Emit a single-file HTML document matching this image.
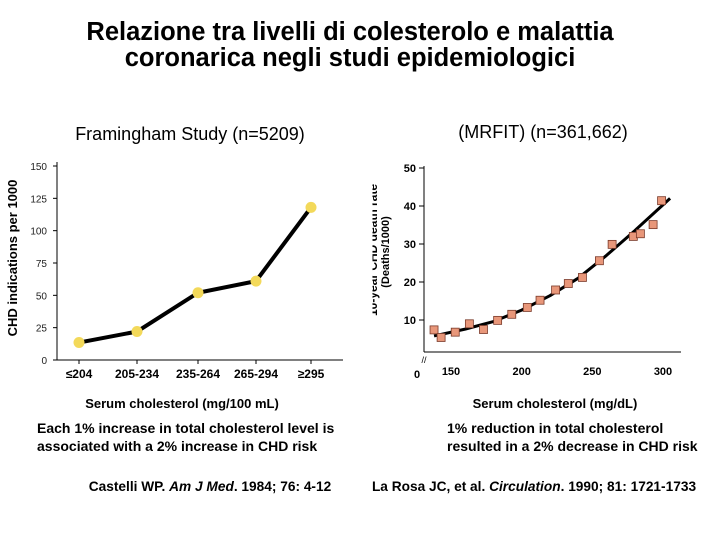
<!DOCTYPE html>
<html><head><meta charset="utf-8"><style>
body{margin:0;background:#fff}
svg{display:block;font-family:"Liberation Sans",Arial,sans-serif}
</style></head><body>
<svg width="720" height="540" viewBox="0 0 720 540">
<text x="350" y="40" text-anchor="middle" font-size="25.5" font-weight="bold">Relazione tra livelli di colesterolo e malattia</text>
<text x="350" y="66" text-anchor="middle" font-size="25.5" font-weight="bold">coronarica negli studi epidemiologici</text>
<text x="190" y="140" text-anchor="middle" font-size="18">Framingham Study (n=5209)</text>
<text x="543" y="138" text-anchor="middle" font-size="18">(MRFIT) (n=361,662)</text>
<g id="left"></g>
<g id="right"></g>
<text transform="translate(17,258) rotate(-90)" text-anchor="middle" font-size="13" font-weight="bold">CHD indications per 1000</text>
<defs><clipPath id="cp"><rect x="372.5" y="150" width="20" height="200"/></clipPath></defs>
<g clip-path="url(#cp)">
<text transform="translate(377,250) rotate(-90)" text-anchor="middle" font-size="12" font-weight="bold">10-year CHD death rate</text>
</g>
<text transform="translate(389,252) rotate(-90)" text-anchor="middle" font-size="11" font-weight="bold">(Deaths/1000)</text>
<text x="182" y="408" text-anchor="middle" font-size="13" font-weight="bold">Serum cholesterol (mg/100 mL)</text>
<text x="555" y="408" text-anchor="middle" font-size="13" font-weight="bold">Serum cholesterol (mg/dL)</text>
<text x="37" y="433" font-size="14" font-weight="bold">Each 1% increase in total cholesterol level is</text>
<text x="37" y="451" font-size="14" font-weight="bold">associated with a 2% increase in CHD risk</text>
<text x="447" y="433" font-size="14" font-weight="bold">1% reduction in total cholesterol</text>
<text x="447" y="451" font-size="14" font-weight="bold">resulted in a 2% decrease in CHD risk</text>
<text x="210" y="491" text-anchor="middle" font-size="13.7" font-weight="bold">Castelli WP. <tspan font-style="italic">Am J Med</tspan>. 1984; 76: 4-12</text>
<text x="534" y="491" text-anchor="middle" font-size="13.7" font-weight="bold">La Rosa JC, et al. <tspan font-style="italic">Circulation</tspan>. 1990; 81: 1721-1733</text>
</svg>
<script>
const leftCats=["≤204","205-234","235-264","265-294","≥295"];
const leftVals=[13.5,22,52,61,118];
const leftTicks=[0,25,50,75,100,125,150];
const rightX=[138,143,153,163,173,183,193,204,213,224,233,243,255,264,279,284,293,299];
const rightY=[7.4,5.4,6.8,9,7.5,9.9,11.5,13.3,15.2,17.9,19.6,21.2,25.6,29.9,32,32.7,35.1,41.4];
const fitX=[138,160,180,200,220,240,260,280,305];
const fitY=[5.8,7.6,9.6,12.6,16.4,21,27,33.5,42];
const rightYTicks=[10,20,30,40,50];
const rightXTicks=[150,200,250,300];
const NS="http://www.w3.org/2000/svg";
function mk(p,t,a){const e=document.createElementNS(NS,t);for(const k in a)e.setAttribute(k,a[k]);p.appendChild(e);return e;}
const L=document.getElementById('left');
const lxp=[79,137,198,256,311];
const ly=v=>360-v*(194/150);
let e=mk(L,'line',{x1:57,y1:162,x2:57,y2:360,stroke:'#000','stroke-width':1});

e=mk(L,'line',{x1:57,y1:360,x2:343,y2:360,stroke:'#000','stroke-width':1});

leftTicks.forEach(t=>{const y=ly(t);
 e=mk(L,'line',{x1:53,y1:y,x2:57,y2:y,stroke:'#000'});
 
 e=mk(L,'text',{x:47,y:y+4,'text-anchor':'end','font-size':10,fill:'#222'});e.textContent=t;
 });
leftCats.forEach((c,i)=>{
 e=mk(L,'line',{x1:lxp[i],y1:360,x2:lxp[i],y2:364,stroke:'#000'});
 
 e=mk(L,'text',{x:lxp[i],y:378,'text-anchor':'middle','font-size':12,'font-weight':'bold'});e.textContent=c;
 });
e=mk(L,'polyline',{points:leftVals.map((v,i)=>lxp[i]+','+ly(v)).join(' '),fill:'none',stroke:'#000','stroke-width':4});

leftVals.forEach((v,i)=>{e=mk(L,'circle',{cx:lxp[i],cy:ly(v),r:5.5,fill:'#f3d95a'});
 });
const R=document.getElementById('right');
const rx=v=>451+(v-150)*(212/150);
const ry=v=>320-(v-10)*3.8;
e=mk(R,'line',{x1:424,y1:166,x2:424,y2:352,stroke:'#000'});

e=mk(R,'line',{x1:424,y1:352,x2:681,y2:352,stroke:'#000'});

rightYTicks.forEach(t=>{const y=ry(t);
 e=mk(R,'line',{x1:419,y1:y,x2:424,y2:y,stroke:'#000'});
 
 e=mk(R,'text',{x:416,y:y+4,'text-anchor':'end','font-size':11,'font-weight':'bold'});e.textContent=t;
 });
rightXTicks.forEach(t=>{
 e=mk(R,'text',{x:rx(t),y:375,'text-anchor':'middle','font-size':11,'font-weight':'bold'});e.textContent=t;
 });
e=mk(R,'text',{x:417,y:378,'text-anchor':'middle','font-size':11,'font-weight':'bold'});e.textContent='0';

e=mk(R,'text',{x:424,y:363,'text-anchor':'middle','font-size':9});e.textContent='//';

let d='M'+rx(fitX[0])+','+ry(fitY[0]);
for(let i=1;i<fitX.length;i++){d+=' L'+rx(fitX[i])+','+ry(fitY[i]);}
e=mk(R,'path',{d:d,fill:'none',stroke:'#000','stroke-width':3,'stroke-linejoin':'round'});

rightX.forEach((x,i)=>{e=mk(R,'rect',{x:rx(x)-4,y:ry(rightY[i])-4,width:8,height:8,fill:'#e8977a',stroke:'#7a3a2a','stroke-width':0.8});
 });
</script>
</body></html>
